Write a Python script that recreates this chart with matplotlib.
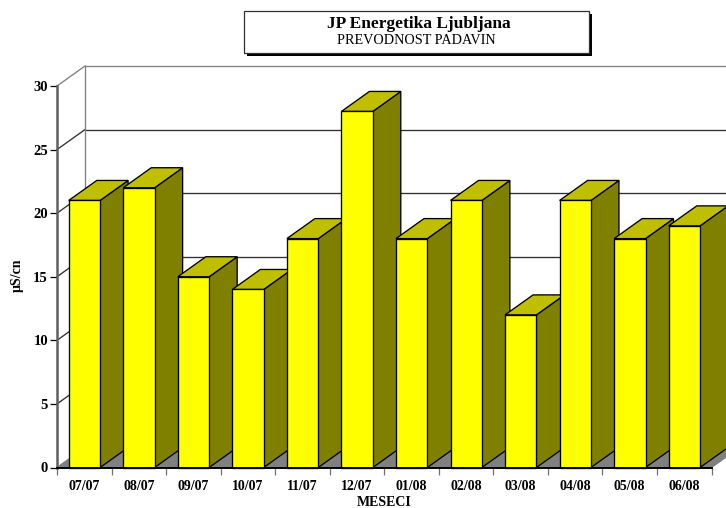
import matplotlib
matplotlib.use('Agg')
import matplotlib.pyplot as plt
from matplotlib.patches import Polygon, Rectangle

plt.rcParams['font.family'] = ['Liberation Serif', 'DejaVu Serif']

months = ['07/07', '08/07', '09/07', '10/07', '11/07', '12/07',
          '01/08', '02/08', '03/08', '04/08', '05/08', '06/08']
values = [21, 22, 15, 14, 18, 28, 18, 21, 12, 21, 18, 19]
y_ticks = [0, 5, 10, 15, 20, 25, 30]

W, H = 726, 508
fig = plt.figure(figsize=(W / 100, H / 100), dpi=100, facecolor='white')

# axes box is the front plane of the fake 3D chart
ax = fig.add_axes([57 / W, 1 - 467.5 / H, 654.5 / W, 381.5 / H])
ax.set_xlim(-0.5, 11.5)
ax.set_ylim(0, 30)
ax.patch.set_visible(False)

# depth of the 3D look, in data units
dx = 28 / (654.5 / 12)
dy = 20 / (381.5 / 30)
bar_w = 0.29
x0, x1 = -0.5, 11.5
lw = 0.95


def poly(pts, fc, ec='black', z=2, lw_=lw):
    ax.add_patch(Polygon(pts, closed=True, facecolor=fc, edgecolor=ec, linewidth=lw_,
                         zorder=z, clip_on=False, joinstyle='miter'))


# floor
poly([(x0, 0), (x0 + dx, dy), (x1 + dx, dy), (x1, 0)], '#808080', ec='#808080', z=1)

# back wall and the lines going to it
for t in y_ticks[1:]:
    col = '#808080' if t == 30 else '#303030'
    ax.plot([x0, x0 + dx], [t, t + dy], color=col, lw=lw, zorder=1, clip_on=False)
    ax.plot([x0 + dx, x1 + dx], [t + dy, t + dy], color=col, lw=lw, zorder=1, clip_on=False)
ax.plot([x0 + dx, x0 + dx], [dy, 30 + dy], color='#808080', lw=lw, zorder=1, clip_on=False)

# bars, left to right so that the next one covers the side of the last
for i, v in enumerate(values):
    l, r = i - bar_w + 0.005, i + bar_w
    poly([(r, 0), (r + dx, dy), (r + dx, v + dy), (r, v)], '#808000', z=3)
    poly([(l, v), (l + dx, v + dy), (r + dx, v + dy), (r, v)], '#BFBF00', z=3)
    ax.add_patch(Rectangle((l, 0), r - l, v, facecolor='#FFFF00', edgecolor='black',
                           linewidth=lw, zorder=3, clip_on=False))

for s in ['top', 'right']:
    ax.spines[s].set_visible(False)
ax.spines['left'].set_color('#606060')
ax.spines['left'].set_linewidth(1.8)
ax.spines['left'].set_zorder(5)
ax.spines['bottom'].set_color('black')
ax.spines['bottom'].set_linewidth(1.4)
ax.spines['bottom'].set_zorder(5)

ax.set_yticks(y_ticks)
ax.set_yticklabels([str(t) for t in y_ticks], fontsize=10.5, fontweight='bold')
ax.tick_params(axis='y', length=5, width=0.9, pad=1.5, color='black')

# ticks sit between the categories, labels in the middle
ax.set_xticks([i - 0.5 for i in range(len(months) + 1)])
ax.set_xticklabels([])
ax.tick_params(axis='x', length=5, width=0.9, color='#707070')
for i, m in enumerate(months):
    ax.annotate(m, (i, 0), xytext=(0, -14), textcoords='offset points', ha='center', va='center',
                fontsize=10, fontweight='bold', annotation_clip=False)

fig.text(384 / W, 1 - 503 / H, 'MESECI', ha='center', va='center', fontsize=10, fontweight='bold')
fig.text(17.5 / W, 1 - 275 / H, 'µS/cn', rotation=90, ha='center', va='center', fontsize=10, fontweight='bold')

# title box with hard shadow
fig.patches.append(Rectangle((247 / W, 1 - 55.5 / H), 345 / W, 42 / H, transform=fig.transFigure,
                             facecolor='black', edgecolor='black', linewidth=0))
fig.patches.append(Rectangle((244 / W, 1 - 53 / H), 345 / W, 42 / H, transform=fig.transFigure,
                             facecolor='white', edgecolor='#303030', linewidth=0.9))
fig.text(419 / W, 1 - 24.5 / H, 'JP Energetika Ljubljana', ha='center', va='center',
         fontsize=12.5, fontweight='bold')
fig.text(416.5 / W, 1 - 41 / H, 'PREVODNOST PADAVIN', ha='center', va='center', fontsize=10.2)

fig.savefig('out.png', dpi=100)
